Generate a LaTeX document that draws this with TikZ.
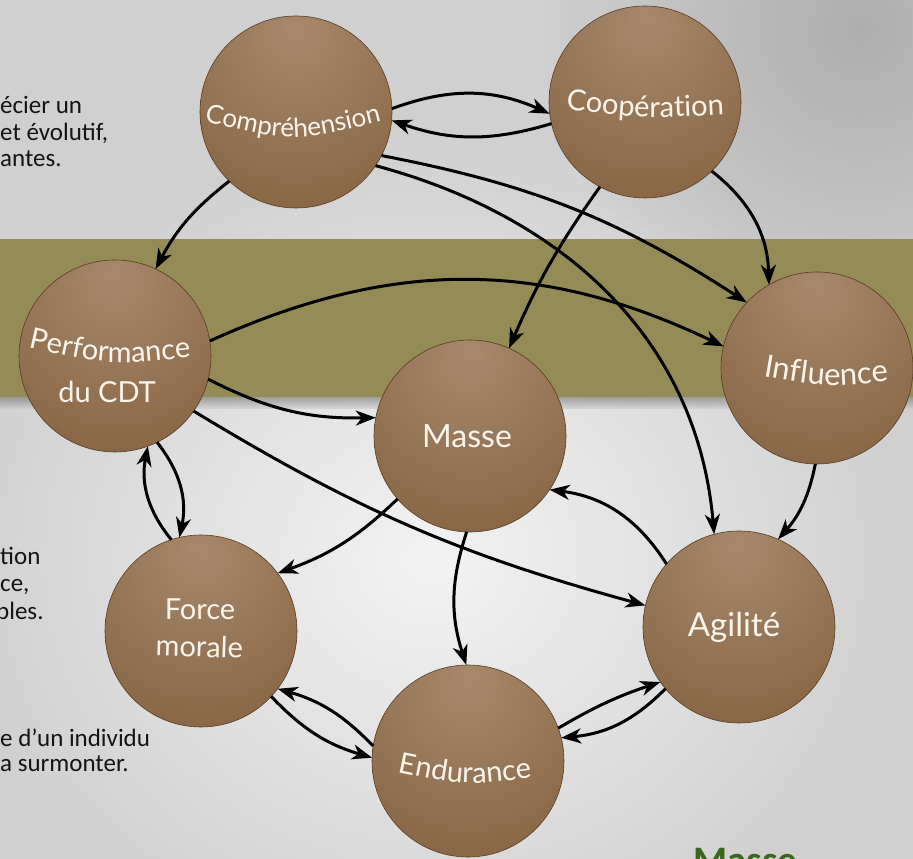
\documentclass[tikz,border=0pt]{standalone}
\usepackage{fontspec}
\newfontfamily\lblfont{Lato}
\newfontfamily\txtfont{Carlito}
\usetikzlibrary{arrows.meta}
\usetikzlibrary{decorations.text}
\usetikzlibrary{fadings}

\definecolor{bandcol}{RGB}{148,139,86}
\definecolor{bgcol}{RGB}{208,208,208}
\definecolor{sphlight}{RGB}{168,137,109}
\definecolor{sphmid}{RGB}{146,113,82}
\definecolor{sphdark}{RGB}{122,88,54}
\definecolor{sphdeep}{RGB}{104,72,40}
\definecolor{lblcol}{RGB}{250,244,234}
\definecolor{titlegreen}{RGB}{58,104,30}

\pgfdeclareradialshading{sphere}{\pgfpoint{0bp}{22bp}}{color(0bp)=(sphlight); color(28bp)=(sphmid); color(55bp)=(sphdark); color(72bp)=(sphdeep); color(100bp)=(sphdeep)}
\tikzfading[name=softout, inner color=transparent!0, outer color=transparent!100]

\newcommand\spherefont[1]{\lblfont\fontsize{#1}{#1}\selectfont\color{lblcol}}

\begin{document}
\begin{tikzpicture}[x=1pt, y=1pt,
    ball/.style={circle, minimum size=192pt, inner sep=0pt, outer sep=0pt,
                 shade, shading=sphere, draw=sphdeep!85!black, line width=.6pt},
    lbl/.style={text=lblcol, inner sep=0pt, anchor=base, font=\lblfont\fontsize{#1}{#1}\selectfont},
    lbl/.default=29,
    sidetxt/.style={anchor=base west, inner sep=0pt, text=black!92,
                    font=\txtfont\fontsize{25}{29}\selectfont},
    link/.style={-{Stealth[length=20pt,width=15pt,inset=6pt]}, line width=3pt}]

  \useasboundingbox (0,0) rectangle (913,859);
  \clip (0,0) rectangle (913,859);

  % background photo, roughly
  \fill[bgcol] (0,0) rectangle (913,859);
  \fill[white, opacity=.75, path fading=softout] (430,300) ellipse (480 and 430);
  \fill[black, opacity=.16, path fading=softout] (860,830) circle (320);

  % band
  \shade[top color=black!55, bottom color=bgcol, opacity=.6] (0,450) rectangle (913,462);
  \fill[bandcol] (0,462) rectangle (913,620);

  % side texts
  \node[sidetxt] (t1) at (0,745) {écier un};
  \node[sidetxt] (t2) at (0,718) {et évolutif,};
  \node[sidetxt] (t3) at (0,692) {antes.};
  \node[sidetxt] (t4) at (0,294) {tion};
  \node[sidetxt] (t5) at (0,267) {ce,};
  \node[sidetxt] (t6) at (-4,239) {bles.};
  \node[sidetxt] (t7) at (0,112) {e d’un individu};
  \node[sidetxt] (t8) at (0,87) {a surmonter.};

  \node[anchor=base west, inner sep=0pt, text=titlegreen,
        font=\txtfont\bfseries\fontsize{39}{44}\selectfont] (title) at (693,-15) {Masse};

  % spheres
  \node[ball] (comp) at (296,747) {};
  \node[ball] (coop) at (645,757) {};
  \node[ball] (perf) at (115,503) {};
  \node[ball] (infl) at (817,491) {};
  \node[ball] (masse) at (470,423) {};
  \node[ball] (force) at (201,228) {};
  \node[ball] (endu) at (468,98) {};
  \node[ball] (agil) at (739,232) {};

  % labels
  \path[decorate, decoration={text along path, text align=center,
      text={|\spherefont{26}|Compréhension}}] (188,741.7) .. controls (293,715.4) .. (398,741.7);
  \path[decorate, decoration={text along path, text align=center,
      text={|\spherefont{29}|Coopération}}] (553,750.8) .. controls (645,740) .. (737,745);
  \path[decorate, decoration={text along path, text align=center,
      text={|\spherefont{29}|Performance}}] (15,515) .. controls (110,492.9) .. (205,503.4);
  \path[decorate, decoration={text along path, text align=center,
      text={|\spherefont{31}|Influence}}] (750,484.9) .. controls (826,471.4) .. (902,478.9);
  \path[decorate, decoration={text along path, text align=center,
      text={|\spherefont{29}|Endurance}}] (385,89.5) .. controls (465,72.5) .. (545,83.5);
  \node[lbl] (cdt-t) at (107,456) {du CDT};
  \node[lbl=32] (masse-t) at (467,411) {Masse};
  \node[lbl=33] (agil-t) at (734,222) {Agilité};
  \node[lbl] (force-t) at (200,239) {Force};
  \node[lbl, rotate=-2] (morale-t) at (199,202) {morale};

  % links
  \begin{scope}[link]
    \draw (comp.2) to[bend left=22] (coop.187);
    \draw (coop.193) to[bend left=18] (comp.-5);
    \draw (comp.226) to[bend right=12] (perf.65);
    \draw (comp.-27) to[bend left=11] (infl.137);
    \draw (comp.-34) to[out=-15, in=95] (agil.105);

    \draw (coop.242) to[bend right=6] (masse.66);
    \draw (coop.-46) to[bend left=25] (infl.120);

    \draw (perf.9) to[bend left=25] (infl.167);
    \draw (perf.-14) to[bend right=14] (masse.169);
    \draw (perf.-35) to[bend right=8] (agil.167);
    \draw (perf.-64) to[bend left=25] (force.103);
    \draw (force.108) to[bend left=25] (perf.-70);

    \draw (masse.221) to[bend left=12] (force.37);
    \draw (masse.-92) to[bend right=18] (endu.91);
    \draw (agil.139) to[bend right=25] (masse.-34);
    \draw (infl.-91) to[bend left=15] (agil.66);

    \draw (force.-43) to[bend right=15] (endu.178);
    \draw (endu.171) to[bend right=15] (force.-37);
    \draw (endu.20) to[bend left=6] (agil.215);
    \draw (agil.220) to[bend left=20] (endu.14);
  \end{scope}
\end{tikzpicture}
\end{document}
